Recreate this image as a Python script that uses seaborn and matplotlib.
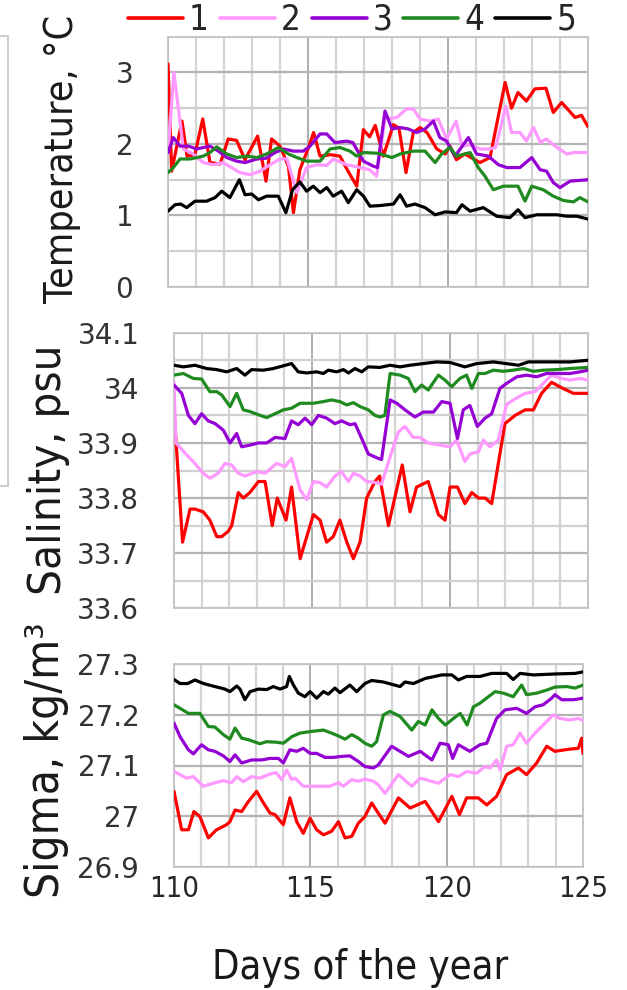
import os
import matplotlib
matplotlib.use("Agg")
import matplotlib.pyplot as plt
import seaborn as sns
import pandas as pd
from matplotlib.ticker import MultipleLocator, FixedLocator, NullFormatter
from matplotlib.lines import Line2D
from matplotlib.patches import Rectangle
from matplotlib import font_manager as fm
from matplotlib.font_manager import FontProperties

# ---------------- data ----------------
STATIONS = ["1", "2", "3", "4", "5"]
COLORS = ["#ff0000", "#ff99ff", "#9400d3", "#1f8a1f", "#000000"]

# Temperature, degC
T1_day = [110.0, 110.13, 110.5, 110.68, 110.96, 111.24, 111.5, 111.86, 112.15, 112.45, 112.75, 113.2, 113.5, 113.7, 114.0, 114.3, 114.48, 114.71, 115.0, 115.2, 115.43, 115.8, 116.14, 116.4, 116.74, 116.98, 117.2, 117.4, 117.69, 118.05, 118.25, 118.5, 118.76, 119.0, 119.25, 119.6, 119.9, 120.07, 120.3, 120.6, 121.14, 121.5, 122.04, 122.27, 122.5, 122.8, 123.1, 123.5, 123.76, 124.06, 124.54, 124.77, 125.0]
T1 = [3.12, 1.62, 2.32, 1.83, 1.85, 2.35, 1.74, 1.72, 2.07, 2.05, 1.78, 2.11, 1.48, 2.07, 1.97, 1.69, 1.04, 1.64, 1.93, 2.16, 1.83, 1.85, 1.83, 1.64, 1.41, 2.2, 2.1, 2.26, 1.83, 2.27, 2.22, 1.6, 2.16, 2.23, 2.16, 1.93, 1.86, 1.97, 1.78, 1.86, 1.74, 1.81, 2.86, 2.5, 2.72, 2.6, 2.77, 2.78, 2.44, 2.58, 2.37, 2.4, 2.24]
T2_day = [110.0, 110.21, 110.55, 110.9, 111.26, 111.62, 111.97, 112.27, 112.57, 112.93, 113.29, 113.64, 114.0, 114.25, 114.6, 114.95, 115.3, 115.67, 115.9, 116.38, 116.86, 117.2, 117.45, 117.75, 118.17, 118.52, 118.76, 119.0, 119.36, 119.65, 119.95, 120.29, 120.5, 120.79, 121.14, 121.5, 121.7, 122.07, 122.27, 122.57, 122.8, 123.05, 123.3, 123.5, 123.9, 124.24, 124.48, 125.0]
T2 = [1.88, 3.0, 1.93, 1.86, 1.74, 1.71, 1.74, 1.67, 1.6, 1.57, 1.62, 1.71, 1.79, 1.79, 1.32, 1.67, 1.71, 1.70, 1.79, 1.71, 1.67, 1.64, 1.55, 2.35, 2.37, 2.49, 2.49, 2.35, 2.32, 2.35, 2.07, 2.32, 1.97, 1.99, 1.93, 1.93, 1.95, 2.53, 2.16, 2.16, 2.04, 2.23, 2.02, 2.07, 1.95, 1.86, 1.88, 1.88]
T3_day = [110.0, 110.19, 110.43, 110.73, 111.02, 111.26, 111.5, 111.8, 112.1, 112.45, 112.75, 113.17, 113.5, 113.82, 114.12, 114.48, 114.83, 115.07, 115.43, 115.67, 115.96, 116.38, 116.6, 116.98, 117.33, 117.48, 117.75, 118.0, 118.29, 118.58, 118.88, 119.18, 119.48, 119.71, 119.95, 120.25, 120.73, 121.02, 121.44, 121.8, 122.1, 122.57, 122.99, 123.29, 123.52, 123.76, 124.0, 124.36, 125.0]
T3 = [1.88, 2.09, 1.97, 1.97, 1.93, 1.95, 1.97, 1.9, 1.81, 1.76, 1.74, 1.79, 1.8, 1.88, 1.93, 1.9, 1.9, 1.97, 2.14, 2.14, 2.02, 2.04, 2.02, 1.76, 1.69, 1.67, 2.46, 2.21, 2.23, 2.21, 2.16, 2.21, 2.32, 2.09, 2.04, 1.83, 2.09, 1.86, 1.83, 1.71, 1.67, 1.67, 1.81, 1.64, 1.62, 1.46, 1.39, 1.48, 1.5]
T4_day = [110.0, 110.19, 110.43, 110.79, 111.26, 111.5, 111.74, 112.1, 112.45, 112.81, 113.17, 113.52, 113.94, 114.3, 114.6, 114.95, 115.43, 115.79, 116.14, 116.5, 116.74, 116.98, 117.5, 118.0, 118.29, 118.76, 119.18, 119.54, 119.77, 120.07, 120.3, 120.6, 120.79, 121.08, 121.32, 121.62, 121.98, 122.5, 122.75, 122.99, 123.4, 123.76, 124.12, 124.48, 124.71, 125.0]
T4 = [1.6, 1.67, 1.79, 1.79, 1.83, 1.88, 1.96, 1.86, 1.81, 1.83, 1.81, 1.86, 1.95, 1.86, 1.81, 1.76, 1.76, 1.93, 1.95, 1.9, 1.83, 1.88, 1.87, 1.81, 1.86, 1.9, 1.9, 1.74, 1.86, 1.95, 1.83, 1.86, 1.88, 1.67, 1.55, 1.36, 1.41, 1.41, 1.2, 1.41, 1.36, 1.27, 1.21, 1.19, 1.25, 1.19]
T5_day = [110.0, 110.25, 110.45, 110.67, 110.96, 111.38, 111.68, 111.92, 112.21, 112.55, 112.75, 112.99, 113.23, 113.52, 113.94, 114.21, 114.45, 114.71, 114.95, 115.19, 115.43, 115.67, 115.9, 116.2, 116.44, 116.74, 116.98, 117.21, 117.6, 118.05, 118.29, 118.52, 118.82, 119.18, 119.54, 119.9, 120.3, 120.5, 120.79, 121.26, 121.74, 122.21, 122.5, 122.75, 123.17, 123.88, 124.24, 124.6, 125.0]
T5 = [1.06, 1.15, 1.16, 1.11, 1.2, 1.2, 1.25, 1.34, 1.25, 1.5, 1.29, 1.3, 1.22, 1.27, 1.27, 1.04, 1.36, 1.47, 1.34, 1.41, 1.32, 1.39, 1.27, 1.34, 1.18, 1.36, 1.27, 1.13, 1.14, 1.16, 1.29, 1.13, 1.16, 1.11, 1.01, 1.05, 1.04, 1.15, 1.06, 1.11, 0.99, 0.97, 1.08, 0.97, 1.01, 1.01, 0.99, 0.99, 0.95]

# Salinity, psu
S1_day = [110.0, 110.31, 110.58, 110.76, 111.06, 111.3, 111.55, 111.73, 111.97, 112.09, 112.33, 112.51, 112.75, 113.06, 113.3, 113.56, 113.74, 114.06, 114.26, 114.57, 115.05, 115.29, 115.53, 115.77, 116.01, 116.26, 116.5, 116.74, 116.98, 117.28, 117.45, 117.77, 118.27, 118.55, 118.79, 119.21, 119.58, 119.82, 120.0, 120.27, 120.54, 120.79, 121.03, 121.27, 121.51, 121.99, 122.36, 122.72, 123.02, 123.32, 123.68, 124.05, 124.47, 124.77, 125.0]
S1 = [33.96, 33.72, 33.78, 33.78, 33.775, 33.76, 33.73, 33.73, 33.74, 33.75, 33.81, 33.8, 33.81, 33.83, 33.83, 33.75, 33.8, 33.76, 33.82, 33.69, 33.77, 33.76, 33.72, 33.73, 33.76, 33.72, 33.69, 33.72, 33.8, 33.83, 33.84, 33.75, 33.86, 33.775, 33.82, 33.83, 33.77, 33.76, 33.82, 33.82, 33.79, 33.81, 33.8, 33.8, 33.79, 33.935, 33.95, 33.96, 33.96, 33.99, 34.01, 34.0, 33.99, 33.99, 33.99]
S2_day = [110.0, 110.07, 110.52, 110.7, 111.06, 111.3, 111.6, 111.85, 112.09, 112.33, 112.57, 113.0, 113.3, 113.72, 114.02, 114.26, 114.57, 114.81, 115.05, 115.29, 115.53, 115.83, 116.07, 116.32, 116.5, 116.74, 116.98, 117.34, 117.52, 117.83, 118.13, 118.37, 118.67, 118.91, 119.21, 119.64, 120.0, 120.24, 120.54, 120.72, 121.03, 121.21, 121.45, 121.75, 122.05, 122.36, 122.72, 123.08, 123.38, 123.68, 124.05, 124.35, 124.71, 125.0]
S2 = [34.01, 33.9, 33.875, 33.866, 33.845, 33.836, 33.845, 33.863, 33.86, 33.845, 33.84, 33.848, 33.845, 33.863, 33.857, 33.872, 33.815, 33.797, 33.83, 33.828, 33.82, 33.84, 33.848, 33.83, 33.845, 33.84, 33.83, 33.828, 33.825, 33.875, 33.92, 33.93, 33.91, 33.91, 33.9, 33.896, 33.893, 33.905, 33.866, 33.88, 33.884, 33.905, 33.893, 33.905, 33.97, 33.98, 33.99, 33.993, 34.008, 34.023, 34.017, 34.014, 34.017, 34.014]
S3_day = [110.0, 110.28, 110.52, 110.76, 111.0, 111.24, 111.49, 111.79, 112.03, 112.27, 112.45, 112.75, 113.06, 113.36, 113.66, 114.02, 114.26, 114.5, 114.75, 114.99, 115.23, 115.53, 115.83, 116.07, 116.38, 116.56, 116.8, 117.04, 117.4, 117.52, 117.83, 118.07, 118.37, 118.73, 119.03, 119.4, 119.7, 120.0, 120.27, 120.48, 120.72, 120.99, 121.27, 121.51, 121.81, 122.05, 122.42, 122.78, 123.14, 123.5, 123.93, 124.35, 124.71, 125.0]
S3 = [34.005, 33.99, 33.95, 33.935, 33.953, 33.94, 33.935, 33.923, 33.9, 33.917, 33.893, 33.896, 33.9, 33.9, 33.91, 33.908, 33.94, 33.933, 33.945, 33.933, 33.95, 33.945, 33.935, 33.94, 33.933, 33.935, 33.908, 33.88, 33.872, 33.87, 33.978, 33.972, 33.96, 33.947, 33.956, 33.956, 33.975, 33.972, 33.908, 33.96, 33.968, 33.93, 33.945, 33.953, 33.999, 34.008, 34.02, 34.023, 34.02, 34.026, 34.026, 34.026, 34.029, 34.032]
S4_day = [110.0, 110.34, 110.7, 111.0, 111.3, 111.55, 111.73, 112.03, 112.27, 112.51, 112.75, 113.12, 113.36, 113.66, 113.96, 114.26, 114.57, 115.05, 115.41, 115.71, 116.01, 116.26, 116.5, 116.74, 117.04, 117.28, 117.46, 117.64, 117.83, 118.19, 118.49, 118.73, 118.97, 119.21, 119.58, 119.82, 120.06, 120.36, 120.6, 120.79, 121.03, 121.27, 121.57, 121.93, 122.29, 122.66, 123.02, 123.38, 123.86, 124.35, 125.0]
S4 = [34.023, 34.026, 34.017, 34.016, 33.993, 33.993, 33.987, 33.966, 33.99, 33.96, 33.957, 33.95, 33.946, 33.953, 33.96, 33.963, 33.972, 33.972, 33.975, 33.978, 33.975, 33.969, 33.973, 33.966, 33.96, 33.95, 33.947, 33.95, 34.026, 34.023, 34.017, 33.993, 34.005, 33.996, 34.023, 34.014, 34.002, 34.017, 34.023, 33.999, 34.026, 34.026, 34.032, 34.03, 34.032, 34.035, 34.03, 34.032, 34.033, 34.035, 34.037]
S5_day = [110.0, 110.34, 110.76, 111.18, 111.55, 111.91, 112.27, 112.57, 112.81, 113.24, 113.6, 114.26, 114.5, 114.81, 115.17, 115.41, 115.59, 115.89, 116.14, 116.32, 116.56, 116.8, 117.04, 117.46, 117.83, 118.19, 118.55, 119.03, 119.52, 120.0, 120.54, 120.97, 121.57, 122.48, 122.84, 123.62, 124.35, 125.0]
S5 = [34.041, 34.038, 34.041, 34.035, 34.033, 34.029, 34.035, 34.023, 34.033, 34.032, 34.035, 34.044, 34.029, 34.027, 34.029, 34.026, 34.032, 34.029, 34.033, 34.027, 34.035, 34.029, 34.038, 34.037, 34.041, 34.038, 34.041, 34.044, 34.047, 34.046, 34.038, 34.044, 34.047, 34.041, 34.047, 34.047, 34.047, 34.05]

# Sigma, kg/m3
G1_day = [110.0, 110.28, 110.53, 110.73, 110.95, 111.26, 111.56, 111.93, 112.05, 112.24, 112.48, 112.73, 113.03, 113.28, 113.52, 113.7, 114.01, 114.25, 114.5, 114.74, 114.99, 115.23, 115.48, 115.78, 116.03, 116.27, 116.52, 116.76, 117.0, 117.25, 117.49, 117.74, 118.23, 118.66, 119.21, 119.7, 120.19, 120.47, 120.73, 121.16, 121.47, 121.83, 122.2, 122.63, 122.93, 123.3, 123.67, 123.97, 124.46, 124.83, 124.95, 125.0]
G1 = [27.049, 26.973, 26.973, 27.009, 26.999, 26.957, 26.973, 26.983, 26.989, 27.012, 27.009, 27.029, 27.049, 27.026, 27.006, 27.003, 26.983, 27.036, 26.989, 26.966, 26.996, 26.973, 26.963, 26.97, 26.989, 26.957, 26.96, 26.986, 26.999, 27.026, 27.006, 26.986, 27.036, 27.016, 27.029, 26.989, 27.039, 27.003, 27.036, 27.036, 27.022, 27.039, 27.082, 27.095, 27.082, 27.105, 27.138, 27.128, 27.132, 27.134, 27.154, 27.124]
G2_day = [110.0, 110.22, 110.46, 110.71, 111.08, 111.44, 111.81, 112.11, 112.3, 112.54, 112.85, 113.15, 113.46, 113.74, 113.95, 114.13, 114.32, 114.44, 114.74, 115.23, 115.72, 116.03, 116.21, 116.52, 116.76, 117.0, 117.31, 117.49, 117.74, 118.23, 118.72, 119.03, 119.7, 120.13, 120.43, 120.73, 121.1, 121.41, 121.59, 121.83, 121.96, 122.2, 122.44, 122.69, 122.93, 123.24, 123.54, 123.91, 124.15, 124.52, 124.83, 125.0]
G2 = [27.088, 27.082, 27.075, 27.078, 27.059, 27.065, 27.07, 27.066, 27.078, 27.068, 27.078, 27.075, 27.082, 27.086, 27.072, 27.091, 27.072, 27.075, 27.059, 27.059, 27.059, 27.066, 27.059, 27.072, 27.069, 27.073, 27.069, 27.062, 27.045, 27.082, 27.059, 27.075, 27.065, 27.082, 27.078, 27.088, 27.085, 27.098, 27.095, 27.111, 27.091, 27.138, 27.141, 27.164, 27.144, 27.164, 27.18, 27.2, 27.193, 27.19, 27.193, 27.189]
G3_day = [110.0, 110.22, 110.53, 110.71, 111.01, 111.26, 111.5, 111.81, 112.05, 112.24, 112.48, 112.85, 113.22, 113.52, 113.83, 114.01, 114.25, 114.5, 114.74, 114.99, 115.23, 115.54, 115.84, 116.15, 116.45, 116.76, 117.0, 117.31, 117.49, 117.98, 118.6, 119.03, 119.46, 119.76, 120.06, 120.22, 120.43, 120.85, 121.22, 121.47, 121.83, 122.14, 122.57, 122.93, 123.24, 123.54, 123.85, 123.97, 124.22, 124.65, 125.0]
G3 = [27.184, 27.157, 27.131, 27.123, 27.141, 27.131, 27.128, 27.119, 27.108, 27.121, 27.105, 27.111, 27.111, 27.114, 27.114, 27.105, 27.131, 27.128, 27.134, 27.124, 27.124, 27.116, 27.116, 27.118, 27.119, 27.108, 27.098, 27.095, 27.101, 27.138, 27.118, 27.128, 27.111, 27.144, 27.141, 27.114, 27.141, 27.128, 27.141, 27.144, 27.193, 27.21, 27.213, 27.203, 27.216, 27.22, 27.233, 27.24, 27.23, 27.23, 27.233]
G4_day = [110.0, 110.22, 110.53, 110.95, 111.26, 111.5, 111.81, 112.05, 112.24, 112.48, 112.73, 113.15, 113.4, 113.77, 114.01, 114.32, 114.62, 114.99, 115.48, 115.78, 116.09, 116.27, 116.52, 116.76, 117.0, 117.25, 117.43, 117.68, 117.92, 118.29, 118.72, 118.96, 119.21, 119.46, 119.7, 119.95, 120.25, 120.5, 120.75, 120.98, 121.22, 121.53, 121.78, 122.08, 122.44, 122.75, 122.93, 123.3, 123.67, 123.97, 124.4, 124.71, 125.0]
G4 = [27.22, 27.213, 27.203, 27.203, 27.177, 27.176, 27.161, 27.152, 27.174, 27.154, 27.151, 27.143, 27.147, 27.146, 27.144, 27.157, 27.164, 27.167, 27.17, 27.164, 27.157, 27.152, 27.161, 27.154, 27.144, 27.138, 27.147, 27.2, 27.207, 27.197, 27.17, 27.187, 27.18, 27.21, 27.193, 27.18, 27.193, 27.203, 27.18, 27.216, 27.223, 27.236, 27.246, 27.243, 27.236, 27.259, 27.24, 27.243, 27.249, 27.255, 27.256, 27.253, 27.259]
G5_day = [110.0, 110.22, 110.5, 110.77, 111.08, 111.5, 111.87, 112.05, 112.3, 112.42, 112.6, 112.79, 113.09, 113.4, 113.64, 113.89, 114.13, 114.23, 114.38, 114.56, 114.8, 114.99, 115.23, 115.48, 115.66, 115.9, 116.09, 116.45, 116.7, 117.0, 117.25, 117.68, 118.29, 118.47, 118.78, 119.21, 119.82, 120.19, 120.43, 120.73, 121.22, 121.65, 122.2, 122.44, 122.69, 123.18, 124.03, 124.71, 125.0]
G5 = [27.27, 27.262, 27.262, 27.269, 27.262, 27.256, 27.251, 27.246, 27.257, 27.251, 27.23, 27.246, 27.251, 27.25, 27.256, 27.251, 27.256, 27.276, 27.259, 27.243, 27.236, 27.246, 27.233, 27.246, 27.241, 27.253, 27.244, 27.259, 27.246, 27.262, 27.268, 27.265, 27.256, 27.265, 27.262, 27.272, 27.279, 27.279, 27.269, 27.276, 27.276, 27.282, 27.282, 27.27, 27.282, 27.279, 27.281, 27.282, 27.285]

X_TICKS = [110, 115, 120, 125]
T_TICKS = [0, 1, 2, 3]
S_TICKS = [33.6, 33.7, 33.8, 33.9, 34.0, 34.1]
S_TICKLABELS = ["33.6", "33.7", "33.8", "33.9", "34", "34.1"]
G_TICKS = [26.9, 27.0, 27.1, 27.2, 27.3]
G_TICKLABELS = ["26.9", "27", "27.1", "27.2", "27.3"]

# ---------------- styling ----------------
sns.set_style("white")
plt.rcParams["font.family"] = ["DejaVu Sans"]


def pick_narrow_font():
    """Return a file path of a condensed sans-serif regular face, if one is installed."""
    prefs = ["Liberation Sans Narrow", "Noto Sans", "Open Sans", "Roboto", "DejaVu Sans", "Lato", "Inter"]
    entries = fm.fontManager.ttflist
    for name in prefs:
        best = None
        for f in entries:
            if f.name != name or f.style != "normal":
                continue
            if f.weight not in (400, "normal", "regular", "book"):
                continue
            base = os.path.basename(f.fname).lower()
            cond = ("narrow" in base or "condensed" in base or "condensed" in str(f.stretch)
                    or name == "Liberation Sans Narrow")
            if not cond or "extra" in base or "ultra" in base or "bold" in base or "italic" in base:
                continue
            if "semi" in base:
                best = best or f.fname
            else:
                return f.fname
        if best:
            return best
    return None


NARROW_FILE = pick_narrow_font()


def narrow_fp(size):
    if NARROW_FILE:
        return FontProperties(fname=NARROW_FILE, size=size)
    return FontProperties(family="Liberation Sans", size=size)


def long_df(days, vals):
    rows = []
    for st, d, v in zip(STATIONS, days, vals):
        for x, y in zip(d, v):
            rows.append((x, y, st))
    return pd.DataFrame(rows, columns=["day", "value", "station"])


fig = plt.figure(figsize=(6.27, 9.9), dpi=100)
W, H = 627.0, 990.0


def add_ax(left, right, top, bottom):
    return fig.add_axes([left / W, 1 - bottom / H, (right - left) / W, (bottom - top) / H])


ax1 = add_ax(168, 588, 36.7, 287)
ax2 = add_ax(174, 588, 332.7, 608.3)
ax3 = add_ax(174, 583, 664.3, 866.7)

panels = [
    (ax1, [T1_day, T2_day, T3_day, T4_day, T5_day], [T1, T2, T3, T4, T5]),
    (ax2, [S1_day, S2_day, S3_day, S4_day, S5_day], [S1, S2, S3, S4, S5]),
    (ax3, [G1_day, G2_day, G3_day, G4_day, G5_day], [G1, G2, G3, G4, G5]),
]
palette = dict(zip(STATIONS, COLORS))

for ax, days, vals in panels:
    df = long_df(days, vals)
    sns.lineplot(data=df, x="day", y="value", hue="station", palette=palette,
                 estimator=None, sort=False, linewidth=2.3, legend=False, ax=ax,
                 zorder=3)
    ax.set_xlim(110, 125)
    ax.xaxis.set_major_locator(FixedLocator(X_TICKS))
    ax.xaxis.set_minor_locator(MultipleLocator(1))
    ax.set_xlabel("")
    ax.set_ylabel("")
    ax.set_axisbelow(True)
    ax.grid(which="minor", axis="x", color="#d4d4d4", lw=1.6)
    ax.grid(which="major", axis="x", color="#a8a8a8", lw=1.3)
    ax.grid(which="minor", axis="y", color="#d0d0d0", lw=1.6)
    ax.grid(which="major", axis="y", color="#b4b4b4", lw=1.6)
    for sp in ax.spines.values():
        sp.set_color("#c4c4c4")
        sp.set_linewidth(1.3)
    ax.tick_params(axis="y", which="major", direction="out", length=10, width=1.2,
                   color="#a8a8a8", pad=15, labelsize=20, labelcolor="#333333")
    ax.tick_params(axis="y", which="minor", length=0)
    ax.tick_params(axis="x", which="major", direction="out", length=5, width=1.2,
                   color="#a8a8a8", pad=1)
    ax.tick_params(axis="x", which="minor", length=0)

ax1.set_ylim(0, 3.5)
ax1.yaxis.set_major_locator(FixedLocator(T_TICKS))
ax1.yaxis.set_minor_locator(MultipleLocator(0.5))
ax1.set_yticklabels([str(t) for t in T_TICKS])
ax1.xaxis.set_major_formatter(NullFormatter())

ax2.set_ylim(33.6, 34.1)
ax2.yaxis.set_major_locator(FixedLocator(S_TICKS))
ax2.yaxis.set_minor_locator(FixedLocator([33.65, 33.75, 33.85, 33.95, 34.05]))
ax2.set_yticklabels(S_TICKLABELS)
ax2.xaxis.set_major_formatter(NullFormatter())

ax3.set_ylim(26.9, 27.3)
ax3.yaxis.set_major_locator(FixedLocator(G_TICKS))
ax3.set_yticklabels(G_TICKLABELS)
ax3.set_xticks(X_TICKS)
ax3.set_xticklabels([str(x) for x in X_TICKS])
for lab in ax3.get_xticklabels():
    lab.set_fontproperties(narrow_fp(26))
    lab.set_color("#262626")

# axis titles
t_temp = fig.text(62 / W, 1 - 159 / H, "Temperature, °C", rotation=90, ha="center", va="center",
                  fontproperties=narrow_fp(32), color="#1a1a1a")
t_sal = fig.text(49 / W, 1 - 470 / H, "Salinity, psu", rotation=90, ha="center", va="center",
                 fontproperties=narrow_fp(36), color="#1a1a1a")
t_sig = fig.text(47 / W, 1 - 760 / H, "Sigma, kg/m³", rotation=90, ha="center", va="center",
                 fontproperties=narrow_fp(36), color="#1a1a1a")
t_x = fig.text(360 / W, 1 - 968 / H, "Days of the year", ha="center", va="center",
               fontproperties=narrow_fp(34), color="#1a1a1a")

# size the texts so that their lengths match the reference
fig.canvas.draw()
rend = fig.canvas.get_renderer()
for t, target, vertical in [(t_temp, 288, True), (t_sal, 250, True), (t_sig, 276, True), (t_x, 296, False)]:
    bb = t.get_window_extent(rend)
    cur = bb.height if vertical else bb.width
    t.set_fontsize(t.get_fontsize() * target / cur)
lab0 = ax3.get_xticklabels()[0]
bb = lab0.get_window_extent(rend)
xt_size = lab0.get_fontsize() * 50.0 / bb.width
for lab in ax3.get_xticklabels():
    lab.set_fontsize(xt_size)

# legend
LEG_SIZE = 25
fs_px = LEG_SIZE * 100 / 72.0
handles = [Line2D([0], [0], color=c, lw=2.6) for c in COLORS]


def make_legend(colsp):
    return fig.legend(handles, STATIONS, loc="center", bbox_to_anchor=(352 / W, 1 - 20 / H),
                      ncol=5, frameon=False, handlelength=55 / fs_px, handletextpad=6 / fs_px,
                      columnspacing=colsp, borderpad=0, borderaxespad=0,
                      prop=narrow_fp(LEG_SIZE))


cs = 10 / fs_px
leg = make_legend(cs)
fig.canvas.draw()
wcur = leg.get_window_extent(fig.canvas.get_renderer()).width
leg.remove()
cs = max(0.05, cs + (448 - wcur) / 4 / fs_px)
leg = make_legend(cs)

# thin grey frame at the far left edge
fig.add_artist(Rectangle((-0.02, 1 - 486 / H), 0.02 + 8 / W, 450 / H,
                         transform=fig.transFigure, fill=False,
                         edgecolor="#c8c8c8", lw=1.3))

fig.savefig("out.png", dpi=100)
